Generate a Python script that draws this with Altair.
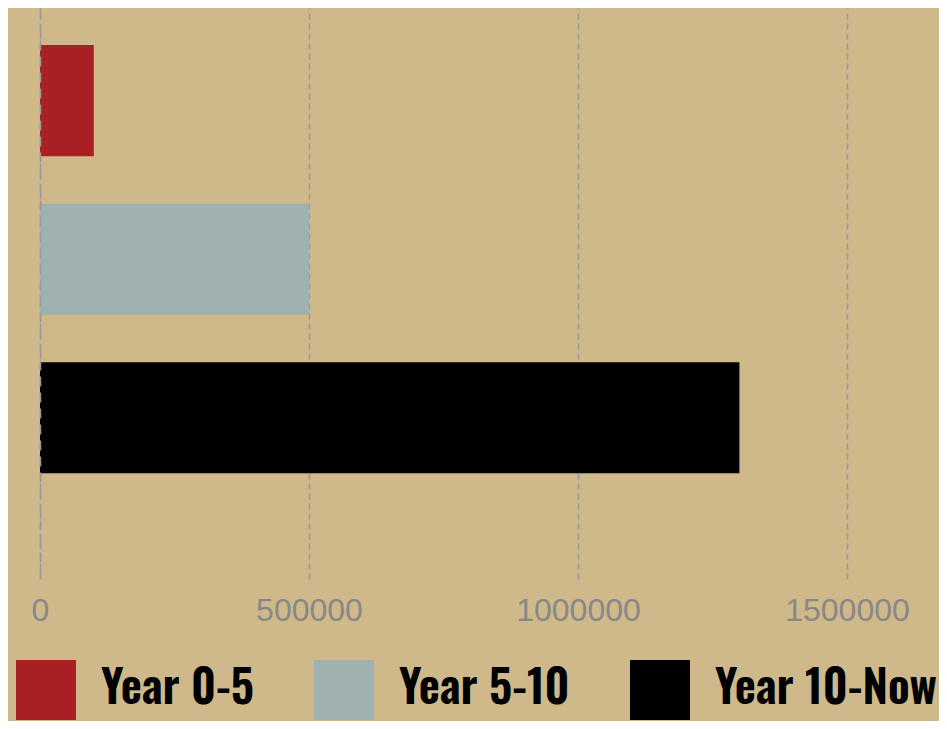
import altair as alt
import pandas as pd

categories = ["Year 0-5", "Year 5-10", "Year 10-Now"]
values = [100000, 500000, 1300000]
colors = ["#A82024", "#A0B2AF", "#000000"]
x_ticks = [0, 500000, 1000000, 1500000]

df = pd.DataFrame({"period": categories, "amount": values})

chart = (
    alt.Chart(df)
    .mark_bar()
    .encode(
        x=alt.X(
            "amount:Q",
            scale=alt.Scale(domain=[0, 1671000], nice=False),
            axis=alt.Axis(
                title=None,
                values=x_ticks,
                format="d",
                grid=True,
                gridDash=[6, 4],
                gridColor="#999999",
                gridWidth=1.5,
                domain=False,
                ticks=False,
                labelFont="Liberation Sans",
                labelFontSize=32,
                labelColor="#888888",
                labelPadding=16,
                labelFlush=False,
                labelOverlap=False,
                zindex=0,
            ),
        ),
        y=alt.Y(
            "period:N",
            sort=categories,
            scale=alt.Scale(paddingInner=0.3, paddingOuter=0.45, align=0.26),
            axis=alt.Axis(
                title=None,
                labels=False,
                ticks=False,
                grid=False,
                domain=True,
                domainColor="#999999",
                domainDash=[10, 6],
                domainWidth=1.5,
                zindex=1,
            ),
        ),
        color=alt.Color(
            "period:N",
            sort=categories,
            scale=alt.Scale(domain=categories, range=colors),
            legend=alt.Legend(
                title=None,
                orient="none",
                legendX=-24,
                legendY=652,
                direction="horizontal",
                symbolType="square",
                symbolSize=3600,
                symbolStrokeWidth=0,
                labelFont="Oswald",
                labelFontWeight=600,
                labelFontSize=46,
                labelColor="#000000",
                labelOffset=25,
                columnPadding=60,
                labelLimit=400,
            ),
        ),
    )
    .properties(
        width=899,
        height=571,
        background="#CFB88A",
        padding={"left": 32, "top": 0, "right": 0, "bottom": 142},
        autosize=alt.AutoSizeParams(type="none"),
    )
    .configure_view(stroke=None)
)

chart.save("out.html", embed_options={"renderer": "svg", "actions": False})
